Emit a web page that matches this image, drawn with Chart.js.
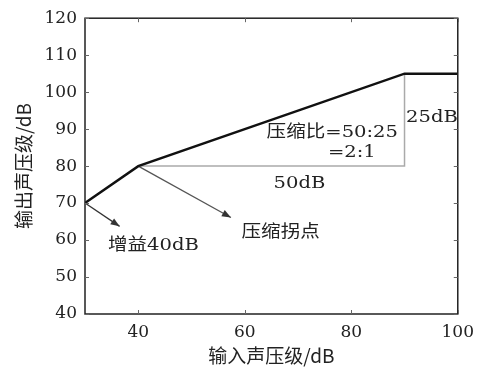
<!DOCTYPE html>
<html>
<head>
<meta charset="utf-8">
<script src="https://cdn.jsdelivr.net/npm/chart.js@4"></script>
<style>
  html, body { margin: 0; padding: 0; background: #fff; }
  #wrap { width: 482px; height: 371px; }
</style>
</head>
<body>
<div id="wrap"><canvas id="c"></canvas></div>
<script>
// ticks
const xTicks = [40, 60, 80, 100];
const yTicks = [40, 50, 60, 70, 80, 90, 100, 110, 120];

// compression curve (input dB -> output dB)
const curveIn = [30, 40, 90, 100];
const curveOut = [70, 80, 105, 105];

// ratio triangle (gray)
const ratioIn = [40, 90, 90];
const ratioOut = [80, 80, 105];

// arrows
const gainArrowIn = [30, 36.5];
const gainArrowOut = [70, 63.7];
const kneeArrowIn = [40, 57.4];
const kneeArrowOut = [80, 66.1];

// annotation texts
const notes = [
    { text: '增益40dB', x: 34.3, y: 58.4, align: 'left' },
    { text: '压缩拐点', x: 59.4, y: 61.9, align: 'left' },
    { text: '50dB', x: 65.4, y: 75.2, align: 'left' },
    { text: '压缩比=50:25', x: 64.1, y: 89.1, align: 'left' },
    { text: '=2:1', x: 84.6, y: 83.7, align: 'right' },
    { text: '25dB', x: 90.3, y: 93.0, align: 'left' }
];

const toPts = (xs, ys) => xs.map((x, i) => ({ x: x, y: ys[i] }));
const FONT = "'DejaVu Serif', 'Noto Sans CJK SC', serif";

// frame + inward ticks + arrowheads + notes
const extras = {
    id: 'extras',
    afterDatasetsDraw(chart) {
        const ctx = chart.ctx;
        const a = chart.chartArea;
        const xs = chart.scales.x, ys = chart.scales.y;
        ctx.save();
        // arrowheads
        [2, 3].forEach(idx => {
            const pts = chart.getDatasetMeta(idx).data;
            const p0 = pts[0], p1 = pts[pts.length - 1];
            const ang = Math.atan2(p1.y - p0.y, p1.x - p0.x);
            const L = 9, W = 3.5;
            ctx.fillStyle = '#333';
            ctx.beginPath();
            ctx.moveTo(p1.x, p1.y);
            ctx.lineTo(p1.x - L * Math.cos(ang) + W * Math.sin(ang), p1.y - L * Math.sin(ang) - W * Math.cos(ang));
            ctx.lineTo(p1.x - L * Math.cos(ang) - W * Math.sin(ang), p1.y - L * Math.sin(ang) + W * Math.cos(ang));
            ctx.closePath();
            ctx.fill();
        });
        // frame
        ctx.strokeStyle = '#222';
        ctx.lineWidth = 1.5;
        ctx.strokeRect(a.left, a.top, a.right - a.left, a.bottom - a.top);
        // inward ticks
        ctx.strokeStyle = '#666';
        ctx.lineWidth = 1;
        ctx.beginPath();
        xTicks.forEach(v => {
            const px = Math.round(xs.getPixelForValue(v)) + 0.5;
            ctx.moveTo(px, a.bottom); ctx.lineTo(px, a.bottom - 4);
            ctx.moveTo(px, a.top); ctx.lineTo(px, a.top + 4);
        });
        yTicks.forEach(v => {
            const py = Math.round(ys.getPixelForValue(v)) + 0.5;
            ctx.moveTo(a.left, py); ctx.lineTo(a.left + 4, py);
            ctx.moveTo(a.right, py); ctx.lineTo(a.right - 4, py);
        });
        ctx.stroke();
        // notes
        ctx.fillStyle = '#222';
        ctx.font = '17px ' + FONT;
        ctx.textBaseline = 'middle';
        notes.forEach(n => {
            const px = xs.getPixelForValue(n.x), py = ys.getPixelForValue(n.y);
            ctx.save();
            ctx.translate(px, py);
            ctx.scale(1.15, 1);
            ctx.textAlign = n.align;
            ctx.fillText(n.text, 0, 0);
            ctx.restore();
        });
        ctx.restore();
    }
};

new Chart(document.getElementById('c'), {
    type: 'line',
    data: {
        datasets: [
            { data: toPts(curveIn, curveOut), borderColor: '#111', borderWidth: 2.5, pointRadius: 0, tension: 0 },
            { data: toPts(ratioIn, ratioOut), borderColor: '#aaa', borderWidth: 1.5, pointRadius: 0, tension: 0 },
            { data: toPts(gainArrowIn, gainArrowOut), borderColor: '#333', borderWidth: 1.3, pointRadius: 0 },
            { data: toPts(kneeArrowIn, kneeArrowOut), borderColor: '#555', borderWidth: 1.3, pointRadius: 0 }
        ]
    },
    options: {
        responsive: true, maintainAspectRatio: false, animation: false,
        layout: { padding: { left: 0, right: 21, top: 14, bottom: 0 } },
        plugins: { legend: { display: false }, tooltip: { enabled: false } },
        scales: {
            x: {
                type: 'linear', min: 30, max: 100,
                afterBuildTicks: s => { s.ticks = xTicks.map(v => ({ value: v })); },
                afterFit: s => { s.height = 57; },
                grid: { display: false, drawTicks: false },
                border: { display: false },
                ticks: { color: '#222', padding: 8, font: { family: FONT, size: 17 } },
                title: { display: true, text: '输入声压级/dB', color: '#222', padding: { top: 0, bottom: 4 },
                         font: { family: "'Noto Sans CJK SC', sans-serif", size: 19 } }
            },
            y: {
                type: 'linear', min: 40, max: 120,
                afterBuildTicks: s => { s.ticks = yTicks.map(v => ({ value: v })); },
                afterFit: s => { s.width = 85; },
                grid: { display: false, drawTicks: false },
                border: { display: false },
                ticks: { color: '#222', padding: 8, font: { family: FONT, size: 17 } },
                title: { display: true, text: '输出声压级/dB', color: '#222', padding: { top: 12, bottom: 0 },
                         font: { family: "'Noto Sans CJK SC', sans-serif", size: 19 } }
            }
        }
    },
    plugins: [extras]
});
</script>
</body>
</html>
